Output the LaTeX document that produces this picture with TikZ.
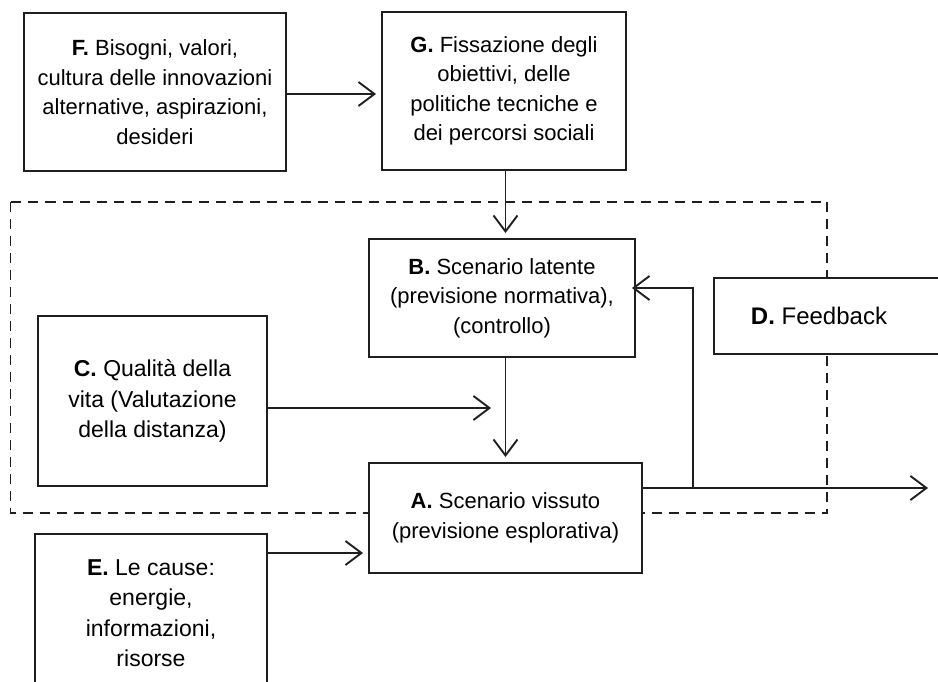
\documentclass[tikz,border=0pt]{standalone}
\usepackage{fontspec}
\setmainfont{Liberation Sans}
\usetikzlibrary{arrows.meta,calc}
\begin{document}
\begin{tikzpicture}[x=1pt,y=-1pt,
  box/.style={draw=black!88, line width=1.9pt, fill=white, inner sep=0pt, align=center, font=\fontsize{22}{29.5}\selectfont},
  bigtext/.style={font=\fontsize{23}{30.5}\selectfont},
  lbl/.style={inner sep=0pt, align=center, font=\fontsize{24}{30}\selectfont},
  conn/.style={line width=1.9pt, draw=black!88, -{Straight Barb[length=16pt,width=24pt]}, shorten >=5pt},
  dashbox/.style={draw=black!88, line width=1.7pt, dash pattern=on 10pt off 7pt}]
\useasboundingbox (0,0) rectangle (938,682);
\draw[dashbox] (10.5,202) rectangle (827,513);

\node[box, minimum width=262pt, minimum height=158pt] (F) at (155,92)
  {\textbf{F.} Bisogni, valori,\\cultura delle innovazioni\\alternative, aspirazioni,\\desideri};
\node[box, minimum width=244pt, minimum height=158pt] (G) at (504,91)
  {\textbf{G.} Fissazione degli\\obiettivi, delle\\politiche tecniche e\\dei percorsi sociali};
\node[box, minimum width=266pt, minimum height=118pt] (B) at (502,298)
  {\textbf{B.} Scenario latente\\(previsione normativa),\\(controllo)};
\node[box, bigtext, minimum width=229pt, minimum height=170pt] (C) at (152.5,401)
  {\textbf{C.} Qualità della\\vita (Valutazione\\della distanza)};
\node[box, minimum width=231pt, minimum height=76pt] (D) at (829.5,316) {};
\node[lbl] (Dt) at (819,316) {\textbf{D.} Feedback};
\node[box, minimum width=273pt, minimum height=110pt] (A) at (505.5,518)
  {\textbf{A.} Scenario vissuto\\(previsione esplorativa)};
\node[box, bigtext, minimum width=232pt, minimum height=158pt] (E) at (151,613)
  {\textbf{E.} Le cause:\\energie,\\informazioni,\\risorse};

\coordinate (cend) at (491,408);
\coordinate (out) at (928,488);
\coordinate (fb) at (693,488);
\coordinate (ein) at (369,553);

\draw[conn] (F.east |- 0,94) -- (G.west |- 0,94);
\draw[conn] (505.5,0 |- G.south) -- (505.5,0 |- B.north);
\draw[conn] (505.5,0 |- B.south) -- (505.5,0 |- A.north);
\draw[conn, shorten >=0pt] (cend -| C.east) -- (cend);
\draw[conn] (ein -| E.east) -- (ein -| A.west);
\draw[conn, shorten >=0pt] (out -| A.east) -- (out);
\draw[conn, shorten >=-4pt] (fb) -- (fb |- 0,288) -- (B.east |- 0,288);
\end{tikzpicture}
\end{document}
